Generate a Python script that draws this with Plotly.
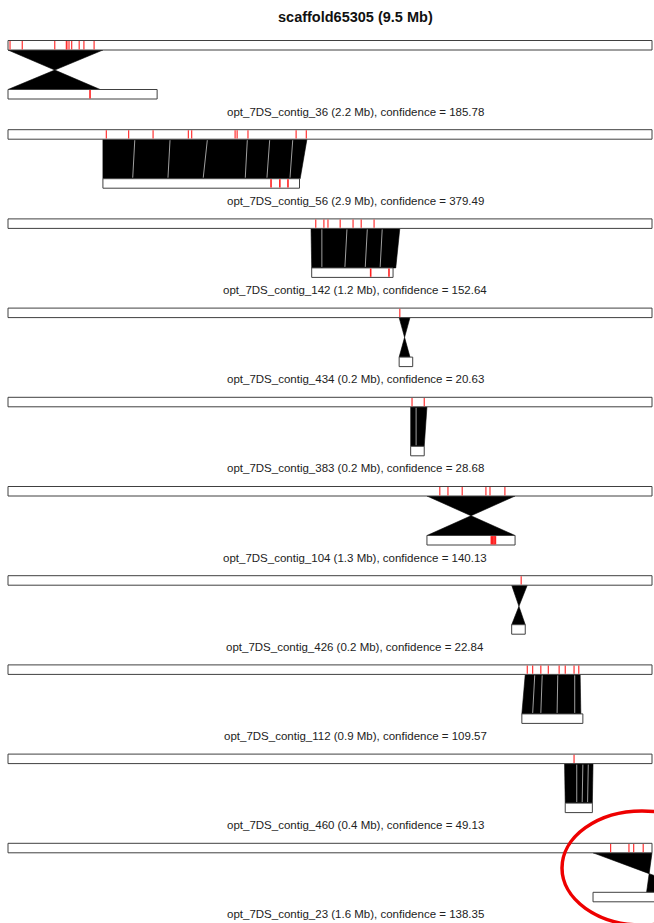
import plotly.graph_objects as go

# ---- data -------------------------------------------------------------
SCAFFOLD = "scaffold65305"
SCAFFOLD_MB = 9.5

contigs = ["opt_7DS_contig_36", "opt_7DS_contig_56", "opt_7DS_contig_142",
           "opt_7DS_contig_434", "opt_7DS_contig_383", "opt_7DS_contig_104",
           "opt_7DS_contig_426", "opt_7DS_contig_112", "opt_7DS_contig_460",
           "opt_7DS_contig_23"]
contig_mb = [2.2, 2.9, 1.2, 0.2, 0.2, 1.3, 0.2, 0.9, 0.4, 1.6]
confidence = [185.78, 379.49, 152.64, 20.63, 28.68, 140.13, 22.84, 109.57, 49.13, 138.35]

# where each contig map is placed along the scaffold (Mb)
contig_offset = [0.00, 1.40, 4.48, 5.77, 5.94, 6.18, 7.43, 7.58, 8.22, 8.63]

# aligned span on the scaffold and on the placed contig (Mb, scaffold axis)
scaf_from = [0.00, 1.40, 4.47, 5.77, 5.94, 6.18, 7.43, 7.63, 8.21, 8.63]
scaf_to   = [1.40, 4.41, 5.78, 5.93, 6.18, 7.48, 7.66, 8.44, 8.63, 9.50]
ctg_from  = [0.00, 1.40, 4.48, 5.77, 5.94, 6.18, 7.43, 7.58, 8.22, 9.42]
ctg_to    = [1.36, 4.31, 5.72, 5.93, 6.14, 7.48, 7.63, 8.45, 8.62, 10.20]
inverted  = [True, False, False, True, False, True, True, False, False, True]

# unaligned labels (red) on the scaffold and on each contig
scaf_marks = [
    [0.03, 0.21, 0.69, 0.86, 0.87, 0.90, 0.94, 1.05, 1.12, 1.27],
    [1.45, 1.78, 2.14, 2.66, 2.71, 3.35, 3.38, 3.54, 4.25, 4.40],
    [4.54, 4.66, 4.72, 4.90, 5.09, 5.21, 5.40],
    [5.78],
    [5.96, 6.14],
    [6.37, 6.49, 6.70, 7.05, 7.11, 7.33],
    [7.57],
    [7.66, 7.74, 7.86, 7.97, 8.13, 8.22, 8.35, 8.42],
    [8.35],
    [8.89, 9.16, 9.23, 9.37],
]
ctg_marks = [
    [1.21],
    [3.88, 4.01, 4.13],
    [5.35, 5.62],
    [],
    [],
    [7.13, 7.15, 7.17, 7.19],
    [],
    [],
    [],
    [],
]

# gaps between matched labels (scaffold position -> contig position)
gap_scaf = [[], [1.87, 2.39, 2.94, 3.53, 3.86, 4.20], [4.63, 5.00, 5.30, 5.52], [],
            [6.02], [], [], [7.77, 7.88, 8.11, 8.36], [8.39, 8.48, 8.56], []]
gap_ctg  = [[], [1.84, 2.36, 2.88, 3.50, 3.82, 4.16], [4.63, 4.97, 5.27, 5.49], [],
            [6.02], [], [], [7.74, 7.86, 8.10, 8.36], [8.39, 8.47, 8.55], []]

# ---- layout constants ---------------------------------------------------
W, H = 654, 923
PX_PER_MB = 67.79
LEFT_PX = 8
PANEL_TOP = 40.5
PANEL_STEP = 89.2
BAR_H = 9.5
CONTIG_DY = 49
LABEL_DY = 71
TEXT_X = 355 / W          # text block centre (paper fraction)
FONT = "Liberation Sans, Arial, sans-serif"
RED = "#ff1f1f"
EDGE = "#404040"

fig = go.Figure()
shapes = []
annotations = []


def bar(x0, x1, y0):
    shapes.append(dict(type="rect", xref="x", yref="y", x0=x0, x1=x1, y0=y0, y1=y0 + BAR_H,
                       fillcolor="white", line=dict(color=EDGE, width=1)))


def tick(x, y0, width=1.1):
    shapes.append(dict(type="line", xref="x", yref="y", x0=x, x1=x, y0=y0 + 0.6,
                       y1=y0 + BAR_H - 0.6, line=dict(color=RED, width=width)))


def poly(xs, ys):
    fig.add_trace(go.Scatter(x=xs, y=ys, mode="lines", fill="toself", fillcolor="black",
                             line=dict(color="black", width=0.6), hoverinfo="skip",
                             showlegend=False))


for i in range(len(contigs)):
    top = PANEL_TOP + PANEL_STEP * i
    a_top = top + BAR_H
    a_bot = top + CONTIG_DY
    s0, s1, c0, c1 = scaf_from[i], scaf_to[i], ctg_from[i], ctg_to[i]

    if inverted[i]:
        # reversed alignment: lines s0->c1 and s1->c0 cross in one point
        t = (s1 - s0) / ((s1 - s0) + (c1 - c0))
        px = s0 + t * (c1 - s0)
        py = a_top + t * (a_bot - a_top)
        poly([s0, s1, px, s0], [a_top, a_top, py, a_top])
        poly([c0, c1, px, c0], [a_bot, a_bot, py, a_bot])
    else:
        poly([s0, s1, c1, c0, s0], [a_top, a_top, a_bot, a_bot, a_top])

    for gs, gc in zip(gap_scaf[i], gap_ctg[i]):
        fig.add_trace(go.Scatter(x=[gs, gc], y=[a_top + 1, a_bot - 1], mode="lines",
                                 line=dict(color="rgba(235,235,235,0.85)", width=0.8),
                                 hoverinfo="skip", showlegend=False))

    bar(0, SCAFFOLD_MB, top)
    bar(contig_offset[i], contig_offset[i] + contig_mb[i], a_bot)
    for m in scaf_marks[i]:
        tick(m, top)
    for m in ctg_marks[i]:
        tick(m, a_bot, 1.6)

    annotations.append(dict(
        x=TEXT_X, xref="paper", y=top + LABEL_DY, yref="y", showarrow=False,
        text=f"{contigs[i]} ({contig_mb[i]:.1f} Mb), confidence = {confidence[i]:.2f}",
        font=dict(family=FONT, size=11.5, color="#222222"), xanchor="center", yanchor="middle"))

annotations.append(dict(
    x=TEXT_X, xref="paper", y=17, yref="y", showarrow=False,
    text=f"<b>{SCAFFOLD} ({SCAFFOLD_MB} Mb)</b>",
    font=dict(family=FONT, size=14.5, color="#111111"), xanchor="center", yanchor="middle"))

# highlight ring around the last alignment
shapes.append(dict(type="circle", xref="x", yref="y",
                   x0=(562 - LEFT_PX) / PX_PER_MB, x1=(722 - LEFT_PX) / PX_PER_MB,
                   y0=811, y1=925, line=dict(color="#ee0000", width=3.5)))

fig.update_layout(
    width=W, height=H, autosize=False,
    margin=dict(l=0, r=0, t=0, b=0, pad=0),
    paper_bgcolor="white", plot_bgcolor="white",
    xaxis=dict(range=[-LEFT_PX / PX_PER_MB, (W - LEFT_PX) / PX_PER_MB], visible=False,
               fixedrange=True),
    yaxis=dict(range=[H, 0], visible=False, fixedrange=True),
    shapes=shapes, annotations=annotations, showlegend=False,
)

fig.write_html("out.html", config={"displayModeBar": False})
